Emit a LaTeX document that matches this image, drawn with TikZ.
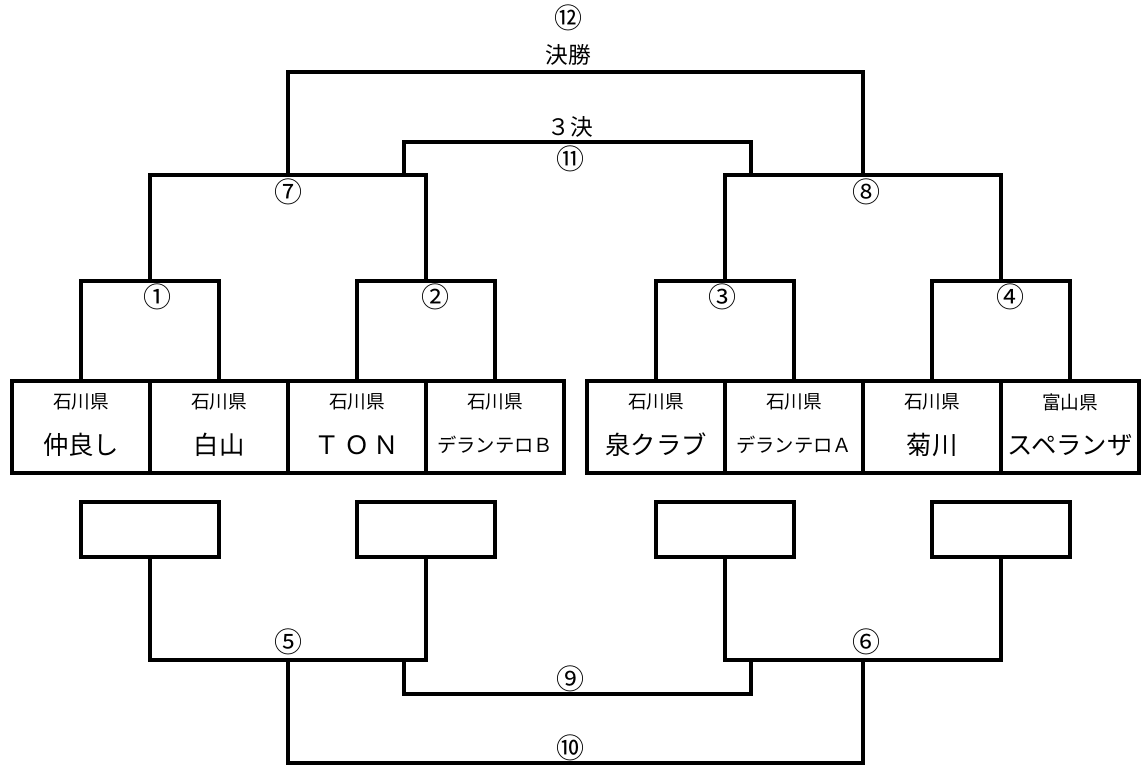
\documentclass[tikz,border=0pt]{standalone}
\usepackage{fontspec}
\setmainfont{Noto Sans CJK JP}
\tikzstyle{team} = [draw, rectangle, inner sep=0pt,
    minimum width=103.5pt, minimum height=69pt]
\tikzstyle{blank} = [draw, rectangle, inner sep=0pt,
    minimum width=103.5pt, minimum height=41.25pt]
\tikzstyle{pref} = [inner sep=0pt, font=\fontsize{14pt}{14pt}\selectfont]
\tikzstyle{club} = [inner sep=0pt, font=\fontsize{19pt}{19pt}\selectfont]
\tikzstyle{clubs} = [inner sep=0pt, font=\fontsize{14.5pt}{14.5pt}\selectfont]
\tikzstyle{num} = [inner sep=0pt, font=\fontsize{21pt}{21pt}\selectfont]
\tikzstyle{word} = [inner sep=0pt, font=\fontsize{17pt}{17pt}\selectfont]
\tikzstyle{round} = [coordinate]

\begin{document}
\begin{tikzpicture}[x=0.75pt, y=-0.75pt, line width=2.5pt]
    \useasboundingbox (0,0) rectangle (1141,766);
    % team boxes
    \node [team] (t1) at (81,427) {};
    \node [team] (t2) at (219,427) {};
    \node [team] (t3) at (357,427) {};
    \node [team] (t4) at (495,427) {};
    \node [team] (t5) at (656,427) {};
    \node [team] (t6) at (794,427) {};
    \node [team] (t7) at (932,427) {};
    \node [team] (t8) at (1070,427) {};
    \node [pref] (p1) at (81,402) {石川県};
    \node [pref] (p2) at (219,402) {石川県};
    \node [pref] (p3) at (357,402) {石川県};
    \node [pref] (p4) at (495,402) {石川県};
    \node [pref] (p5) at (656,402) {石川県};
    \node [pref] (p6) at (794,402) {石川県};
    \node [pref] (p7) at (932,402) {石川県};
    \node [pref] (p8) at (1070,402) {富山県};
    \node [club] (c1) at (81,445) {仲良し};
    \node [club] (c2) at (219,445) {白山};
    \node [club] (c3) at (357,445) {Ｔ\,Ｏ\,Ｎ};
    \node [clubs] (c4) at (495,445) {デランテロＢ};
    \node [club] (c5) at (656,445) {泉クラブ};
    \node [clubs] (c6) at (794,445) {デランテロＡ};
    \node [club] (c7) at (932,445) {菊川};
    \node [club] (c8) at (1070,445) {スペランザ};
    % upper bracket
    \node [round] (r1) at (150,281) {};
    \node [round] (r2) at (426,281) {};
    \node [round] (r3) at (725,281) {};
    \node [round] (r4) at (1001,281) {};
    \node [round] (r7) at (288,175) {};
    \node [round] (r8) at (863,175) {};
    \node [round] (s7) at (404,175) {};
    \node [round] (s8) at (751,175) {};
    \node [round] (r11) at (577,142) {};
    \node [round] (r12) at (577,72) {};
    \draw (t1.north) |- (r1) -| (t2.north);
    \draw (t3.north) |- (r2) -| (t4.north);
    \draw (t5.north) |- (r3) -| (t6.north);
    \draw (t7.north) |- (r4) -| (t8.north);
    \draw (r1) |- (r7) -| (r2);
    \draw (r3) |- (r8) -| (r4);
    \draw (r7) |- (r12) -| (r8);
    \draw (s7) |- (r11) -| (s8);
    \node [num] (n1) at (157,297) {①};
    \node [num] (n2) at (435,297) {②};
    \node [num] (n3) at (722,297) {③};
    \node [num] (n4) at (1010,297) {④};
    \node [num] (n7) at (288,192) {⑦};
    \node [num] (n8) at (866,192) {⑧};
    \node [num] (n11) at (570,159) {⑪};
    \node [word] (l11) at (570,127) {３決};
    \node [word] (l12) at (568,55) {決勝};
    \node [num] (n12) at (568,18) {⑫};
    % lower bracket
    \node [blank] (w1) at (150,529.5) {};
    \node [blank] (w2) at (426,529.5) {};
    \node [blank] (w3) at (725,529.5) {};
    \node [blank] (w4) at (1001,529.5) {};
    \node [round] (r5) at (288,660) {};
    \node [round] (r6) at (863,660) {};
    \node [round] (s5) at (404,660) {};
    \node [round] (s6) at (751,660) {};
    \node [round] (r9) at (577,694) {};
    \node [round] (r10) at (577,763) {};
    \draw (w1.south) |- (r5) -| (w2.south);
    \draw (w3.south) |- (r6) -| (w4.south);
    \draw (s5) |- (r9) -| (s6);
    \draw (r5) |- (r10) -| (r6);
    \node [num] (n5) at (288,642) {⑤};
    \node [num] (n6) at (866,642) {⑥};
    \node [num] (n9) at (570,679) {⑨};
    \node [num] (n10) at (570,748) {⑩};
\end{tikzpicture}
\end{document}
